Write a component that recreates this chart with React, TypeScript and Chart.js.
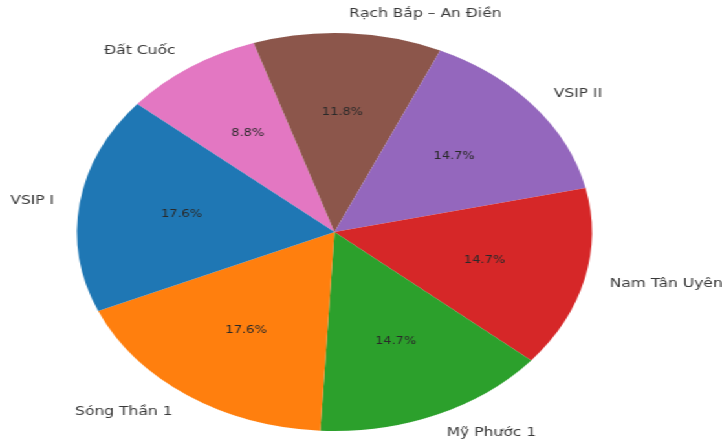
import React, { useEffect, useRef } from "react";
import { Chart, registerables } from "chart.js";

Chart.register(...registerables);

// Data in the original (counter-clockwise) order
const categories = [
  "VSIP I",
  "Sóng Thần 1",
  "Mỹ Phước 1",
  "Nam Tân Uyên",
  "VSIP II",
  "Rạch Bắp – An Điền",
  "Đất Cuốc",
];
const percentages = [17.6, 17.6, 14.7, 14.7, 14.7, 11.8, 8.8];
const colors = ["#1f77b4", "#ff7f0e", "#2ca02c", "#d62728", "#9467bd", "#8c564b", "#e377c2"];

const CANVAS_W = 558;
const CANVAS_H = 445;
const STRETCH = 722 / CANVAS_W;

const labelPlugin = {
  id: "pieLabels",
  afterDraw(chart: any) {
    const ctx = chart.ctx;
    const meta = chart.getDatasetMeta(0);
    const labels = chart.data.labels as string[];
    const values = chart.data.datasets[0].data as number[];
    ctx.save();
    meta.data.forEach((arc: any, i: number) => {
      const { x, y, startAngle, endAngle, outerRadius } = arc.getProps(
        ["x", "y", "startAngle", "endAngle", "outerRadius"],
        true
      );
      const mid = (startAngle + endAngle) / 2;
      const c = Math.cos(mid);
      const s = Math.sin(mid);
      // outer label
      ctx.font = '12px "DejaVu Sans"';
      ctx.fillStyle = "#3a3a3a";
      ctx.textBaseline = "middle";
      ctx.textAlign = c > 0 ? "left" : "right";
      ctx.fillText(labels[i], x + c * outerRadius * 1.1, y + s * outerRadius * 1.1);
      // percent
      ctx.font = '10px "DejaVu Sans"';
      ctx.fillStyle = "#2a2a2a";
      ctx.textAlign = "center";
      ctx.fillText(values[i].toFixed(1) + "%", x + c * outerRadius * 0.6, y + s * outerRadius * 0.6);
    });
    ctx.restore();
  },
};

export default function App() {
  const ref = useRef<HTMLCanvasElement | null>(null);
  useEffect(() => {
    if (!ref.current) return;
    const order = categories.map((_, i) => i).reverse();
    const chart = new Chart(ref.current, {
      type: "pie",
      data: {
        labels: order.map((i) => categories[i]),
        datasets: [
          {
            data: order.map((i) => percentages[i]),
            backgroundColor: order.map((i) => colors[i]),
            borderWidth: 0,
          },
        ],
      },
      options: {
        responsive: false,
        maintainAspectRatio: false,
        animation: false,
        rotation: -50,
        layout: { padding: { left: 59.5, right: 100.5, top: 33, bottom: 14 } },
        plugins: { legend: { display: false }, tooltip: { enabled: false } },
      },
      plugins: [labelPlugin],
    });
    return () => chart.destroy();
  }, []);
  return (
    <div
      style={{
        position: "fixed",
        left: 0,
        top: 0,
        width: CANVAS_W,
        height: CANVAS_H,
        transform: `scaleX(${STRETCH})`,
        transformOrigin: "0 0",
        background: "#fff",
      }}
    >
      <canvas ref={ref} width={CANVAS_W} height={CANVAS_H} />
    </div>
  );
}
